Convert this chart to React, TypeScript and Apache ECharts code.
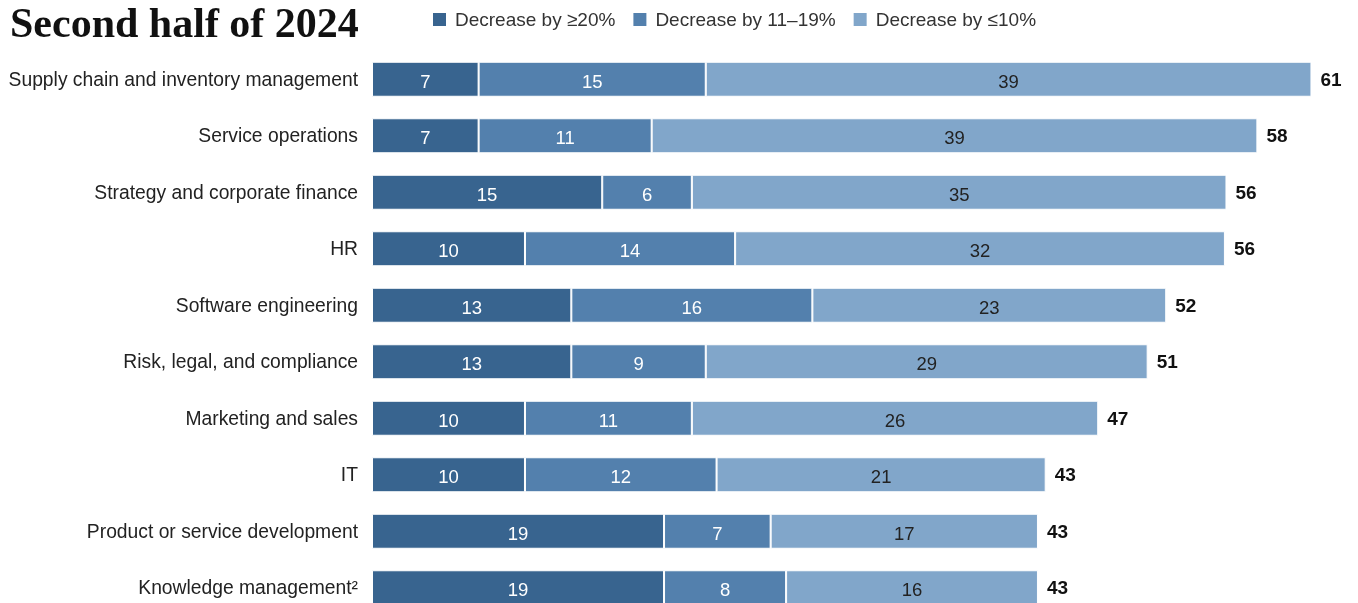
import React, { useEffect, useRef } from "react";
import * as echarts from "echarts";

const categories = [
  "Supply chain and inventory management",
  "Service operations",
  "Strategy and corporate finance",
  "HR",
  "Software engineering",
  "Risk, legal, and compliance",
  "Marketing and sales",
  "IT",
  "Product or service development",
  "Knowledge management²",
];
const seriesNames = ["Decrease by ≥20%", "Decrease by 11–19%", "Decrease by ≤10%"];
const dec20 = [6.9, 6.9, 14.9, 9.9, 12.9, 12.9, 9.9, 9.9, 18.9, 18.9];
const dec11to19 = [14.7, 11.2, 5.8, 13.6, 15.6, 8.7, 10.8, 12.4, 6.9, 7.9];
const dec10 = [39.2, 39.2, 34.6, 31.7, 22.9, 28.6, 26.3, 21.3, 17.3, 16.3];
const totals = [61, 58, 56, 56, 52, 51, 47, 43, 43, 43];
const colors = ["#38648f", "#5380ad", "#81a6ca"];

const FONT = "Liberation Sans";

export default function App() {
  const ref = useRef<HTMLDivElement>(null);
  useEffect(() => {
    if (!ref.current) return;
    const chart = echarts.init(ref.current, null, { renderer: "svg" });
    const data = [dec20, dec11to19, dec10];
    chart.setOption({
      animation: false,
      title: {
        text: "Second half of 2024",
        left: 10,
        top: 2,
        padding: 0,
        textStyle: {
          fontFamily: "Liberation Serif",
          fontWeight: "bold",
          fontSize: 42,
          lineHeight: 42,
          color: "#111",
        },
      },
      legend: {
        left: 426,
        top: 5,
        icon: "rect",
        itemWidth: 15,
        itemHeight: 15,
        itemGap: 16,
        selectedMode: false,
        textStyle: { fontFamily: FONT, fontSize: 19, color: "#333", padding: [0, 0, 0, 3] },
        data: seriesNames,
      },
      grid: { left: 372, top: 51, height: 565, right: 28, containLabel: false },
      xAxis: {
        type: "value",
        min: 0,
        max: 62,
        show: false,
      },
      yAxis: {
        type: "category",
        inverse: true,
        data: categories,
        axisLine: { show: false },
        axisTick: { show: false },
        axisLabel: {
          fontFamily: FONT,
          fontSize: 19.3,
          color: "#222",
          margin: 14,
        },
      },
      series: seriesNames.map((name, i) => ({
        name,
        type: "bar",
        stack: "total",
        barWidth: 35,
        data: data[i],
        itemStyle: { color: colors[i], borderColor: "#ffffff", borderWidth: 1 },
        label: {
          show: true,
          position: "inside",
          offset: [0, 2],
          fontFamily: FONT,
          fontSize: 18.5,
          color: i === 2 ? "#222" : "#ffffff",
          formatter: (p: any) => String(Math.round(p.value)),
        },
      })).concat([
        {
          name: "total",
          type: "bar",
          stack: "total",
          barWidth: 35,
          data: totals.map(() => 0),
          itemStyle: { color: "transparent" },
          label: {
            show: true,
            position: "right",
            distance: 9,
            fontFamily: FONT,
            fontSize: 19,
            fontWeight: "bold",
            color: "#111",
            formatter: (p: any) => String(totals[p.dataIndex]),
          },
        } as any,
      ]),
    });
    return () => chart.dispose();
  }, []);
  return (
    <div
      ref={ref}
      style={{ position: "fixed", left: 0, top: 0, width: 1358, height: 620 }}
    />
  );
}
